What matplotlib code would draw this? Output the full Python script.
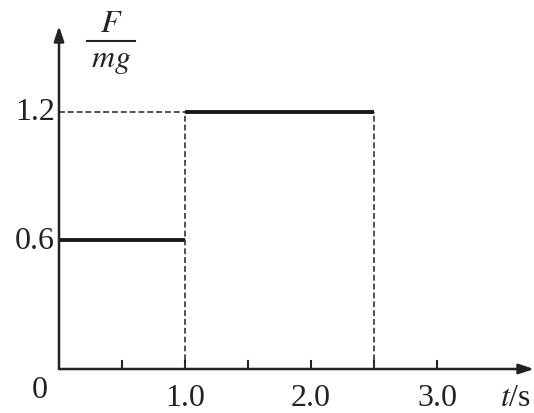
import matplotlib
matplotlib.use("Agg")
import matplotlib.pyplot as plt
from matplotlib.lines import Line2D

plt.rcParams.update({
    "font.family": "Liberation Serif",
    "mathtext.fontset": "stix",
})

# ── DATA ──────────────────────────────────────────────────────────────────────
t_low = [0.0, 1.0]          # F/mg = 0.6 interval
f_low = [0.6, 0.6]
t_high = [1.0, 2.5]         # F/mg = 1.2 interval
f_high = [1.2, 1.2]
x_ticks = [0.5, 1.0, 1.5, 2.0, 2.5, 3.0]
x_labels = ["1.0", "2.0", "3.0"]
x_label_pos = [1.0, 2.0, 3.0]
y_labels = ["0.6", "1.2"]
y_label_pos = [0.6, 1.2]

W, H = 534, 414
fig = plt.figure(figsize=(W / 100, H / 100), dpi=100)
ax = fig.add_axes([59 / W, 44 / H, (W - 59) / W, (370 - 27) / H])
ax.set_xlim(0, 3.77)
ax.set_ylim(0, 1.6)
for s in ax.spines.values():
    s.set_visible(False)
ax.set_xticks([])
ax.set_yticks([])

# axes with arrows
ax.annotate("", xy=(3.77, 0), xytext=(0, 0), annotation_clip=False,
            arrowprops=dict(arrowstyle="-|>,head_length=0.9,head_width=0.3",
                            color="#222222", lw=1.8, shrinkA=0, shrinkB=0))
ax.annotate("", xy=(0, 1.6), xytext=(0, 0), annotation_clip=False,
            arrowprops=dict(arrowstyle="-|>,head_length=0.9,head_width=0.3",
                            color="#222222", lw=1.8, shrinkA=0, shrinkB=0))

# small ticks on t axis
for xt in x_ticks:
    ax.plot([xt, xt], [0, 0.035], color="#222222", lw=1.5)

# step values
ax.plot(t_low, f_low, color="#1a1a1a", lw=2.8, solid_capstyle="butt")
ax.plot(t_high, f_high, color="#1a1a1a", lw=2.8, solid_capstyle="butt")

# dashed guides
dash = dict(color="#333333", lw=1.2, linestyle=(0, (3.5, 1.8)))
ax.plot([0, t_high[0]], [f_high[0], f_high[0]], **dash)
ax.plot([t_high[0], t_high[0]], [0, f_high[0]], **dash)
ax.plot([t_high[1], t_high[1]], [0, f_high[1]], **dash)

# tick labels
for x, lab in zip(x_label_pos, x_labels):
    ax.text(x, -0.065, lab, ha="center", va="top", fontsize=23,
            color="#222222")
for y, lab in zip(y_label_pos, y_labels):
    ax.text(-0.03, y, lab, ha="right", va="center", fontsize=23,
            color="#222222")
ax.text(-0.15, -0.03, "0", ha="center", va="top", fontsize=23,
        color="#222222")
ax.text(3.62, -0.065, "$t$/s", ha="center", va="top", fontsize=23,
        color="#222222")

# F/mg label
fig.text(111 / W, 1 - 25 / H, "$F$", ha="center", va="center", fontsize=23,
         color="#222222")
fig.text(111 / W, 1 - 61 / H, "$mg$", ha="center", va="center", fontsize=23,
         color="#222222")
fig.add_artist(Line2D([87 / W, 135 / W], [1 - 42 / H, 1 - 42 / H],
                      color="#222222", lw=1.5, transform=fig.transFigure))

fig.savefig("out.png", dpi=100, facecolor="white")
